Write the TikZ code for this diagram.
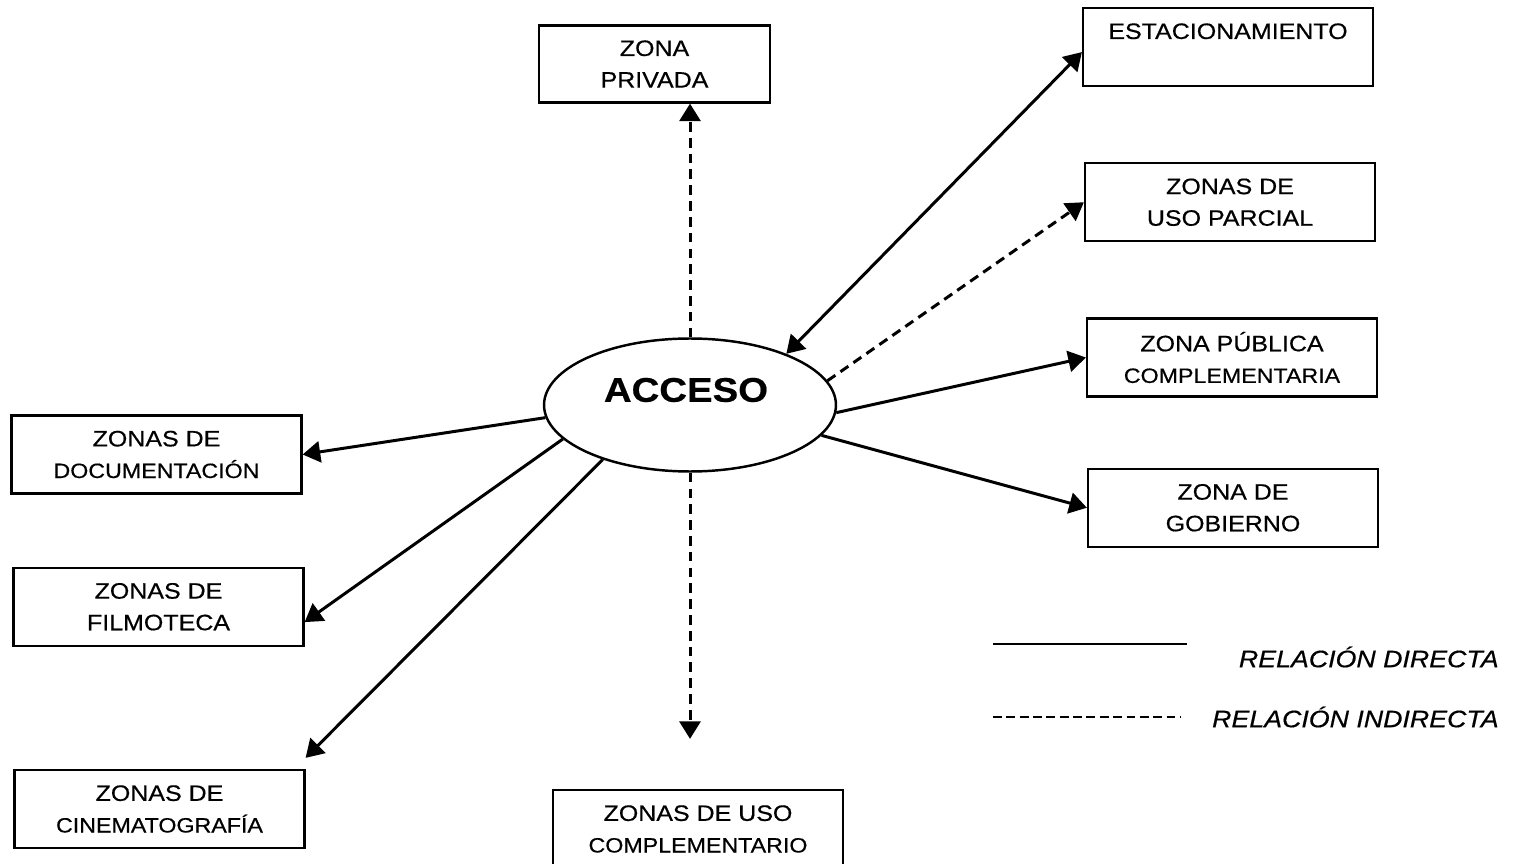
\documentclass[tikz,border=0pt]{standalone}
\usepackage{fontspec}
\setmainfont{Liberation Sans}[FakeStretch=1.12, FakeBold=0.5]
\usetikzlibrary{positioning,arrows.meta,shapes.geometric}

\newcommand{\minorline}[1]{{\fontsize{11.8}{18}\selectfont #1}}

\begin{document}
\begin{tikzpicture}[x=0.02cm, y=-0.02cm,
  zonebox/.style={rectangle, draw=black, line width=1.3pt, minimum width=5.8cm, minimum height=1.56cm, align=center, inner sep=2pt, font=\fontsize{12.7}{18}\selectfont},
  hubnode/.style={ellipse, draw=black, line width=1.4pt, minimum width=5.84cm, minimum height=2.66cm, inner sep=0pt},
  direct/.style={line width=1.7pt, -{Triangle[length=10pt,width=12pt]}},
  indirect/.style={direct, dash pattern=on 5.5pt off 3.5pt},
  legendtext/.style={font=\fontsize{13.6}{16}\selectfont\itshape, inner sep=0pt}]

\useasboundingbox (0,0) rectangle (1520,864);

%Nodes
\node[hubnode]          (acceso)   at (690,405) {};
\node[font=\fontsize{19.5}{22}\selectfont\bfseries] (accesolabel) at (686,390) {ACCESO};
\node[zonebox, minimum width=4.62cm, minimum height=1.54cm] (privada) at (654.5,64) {ZONA\\PRIVADA};
\node[zonebox]          (estac)    at (1228,47) {ESTACIONAMIENTO\\~};
\node[zonebox]          (usoparcial) [below=1.5cm of estac, xshift=0.04cm] {ZONAS DE\\USO PARCIAL};
\node[zonebox]          (publica)  [below=1.5cm of usoparcial, xshift=0.04cm] {ZONA PÚBLICA\\\minorline{COMPLEMENTARIA}};
\node[zonebox]          (gobierno) [below=1.4cm of publica, xshift=0.02cm] {ZONA DE\\GOBIERNO};
\node[zonebox]          (documentacion) at (156.5,454.5) {ZONAS DE\\\minorline{DOCUMENTACIÓN}};
\node[zonebox]          (filmoteca) [below=1.44cm of documentacion, xshift=0.04cm] {ZONAS DE\\FILMOTECA};
\node[zonebox]          (cinemato) [below=2.44cm of filmoteca, xshift=0.02cm] {ZONAS DE\\\minorline{CINEMATOGRAFÍA}};
\node[zonebox]          (usocomp)  at (698,829) {ZONAS DE USO\\\minorline{COMPLEMENTARIO}};
\coordinate[above=0.22cm of cinemato.north east] (cinetip); % arrow stops short of the box

%Lines
\draw[indirect] (acceso.north) -- (acceso.north |- privada.south);
\draw[direct, {Triangle[length=10pt,width=12pt]}-{Triangle[length=10pt,width=12pt]}] (acceso.28) -- (estac.182);
\draw[indirect] (acceso.10) -- (usoparcial.west);
\draw[direct] (acceso.-3) -- (publica.west);
\draw[direct] (acceso.-13) -- (gobierno.west);
\draw[direct] (acceso.185) -- (documentacion.east);
\draw[direct] (acceso.195) -- (filmoteca.-6);
\draw[direct] (acceso.212) -- (cinetip);
\draw[indirect, shorten >=1cm] (acceso.south) -- (acceso.south |- usocomp.north);

%Legend
\coordinate (dirstart) at (993,644);
\coordinate (dirend) at (1187,644);
\coordinate (indstart) at (993,717);
\coordinate (indend) at (1180,717);
\draw[line width=1.1pt] (dirstart) -- (dirend);
\draw[line width=1.1pt, dash pattern=on 5pt off 2.6pt] (indstart) -- (indend);
\node[legendtext, anchor=east] (dirlabel) at (1499,657) {RELACIÓN DIRECTA};
\node[legendtext, anchor=east] (indlabel) at (1499,717) {RELACIÓN INDIRECTA};

\end{tikzpicture}
\end{document}
